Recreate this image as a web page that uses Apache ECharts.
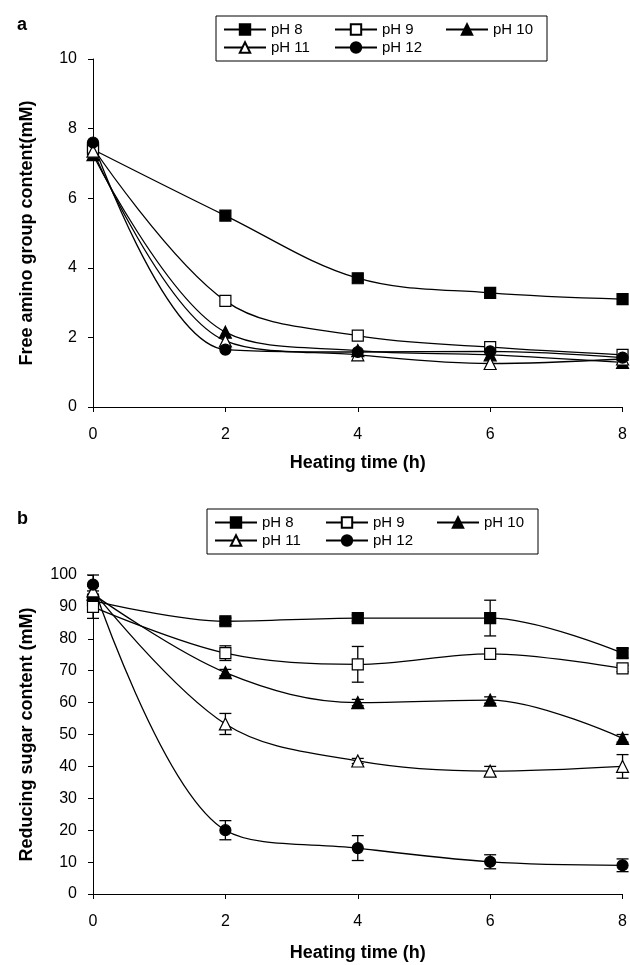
<!DOCTYPE html>
<html>
<head>
<meta charset="utf-8">
<script src="https://cdn.jsdelivr.net/npm/echarts@6/dist/echarts.min.js"></script>
<style>
html, body { margin: 0; padding: 0; background: #fff; }
#chart_div { width: 630px; height: 965px; }
</style>
</head>
<body>
<div id="chart_div"></div>
<script>
// heating time (h)
var hours = [0, 2, 4, 6, 8];
var xTicks = [0, 2, 4, 6, 8];
var phNames = ['pH 8', 'pH 9', 'pH 10', 'pH 11', 'pH 12'];

// a: free amino group content (mM)
var aminoPH8 = [7.4, 5.5, 3.7, 3.28, 3.1];
var aminoPH9 = [7.45, 3.05, 2.05, 1.72, 1.5];
var aminoPH10 = [7.25, 2.15, 1.62, 1.5, 1.28];
var aminoPH11 = [7.35, 1.9, 1.5, 1.25, 1.38];
var aminoPH12 = [7.6, 1.65, 1.58, 1.6, 1.42];

// b: reducing sugar content (mM) and error bars (+/-)
var sugarPH8 = [92, 85.5, 86.5, 86.5, 75.5];
var sugarPH9 = [90, 75.5, 72, 75.3, 70.7];
var sugarPH10 = [94, 69.4, 60, 60.8, 48.8];
var sugarPH11 = [95, 53.3, 41.7, 38.5, 40];
var sugarPH12 = [97, 20, 14.4, 10.1, 9];
var sugarErrPH8 = [1.5, 1, 1, 5.6, 1.5];
var sugarErrPH9 = [3.6, 2.3, 5.6, 0.8, 1];
var sugarErrPH10 = [1, 1, 1, 1, 1.2];
var sugarErrPH11 = [1.5, 3.3, 0.8, 1.5, 3.7];
var sugarErrPH12 = [3, 3, 3.9, 2.2, 2];

var font = 'Liberation Sans';
var marks = [
	{ symbol: 'rect', fill: '#000' },
	{ symbol: 'rect', fill: '#fff' },
	{ symbol: 'triangle', fill: '#000' },
	{ symbol: 'triangle', fill: '#fff' },
	{ symbol: 'circle', fill: '#000' }
];

function pairs(vals) {
	var out = [];
	for (var i = 0; i < hours.length; i++) out.push([hours[i], vals[i]]);
	return out;
}

function lineSeries(name, k, vals, axis) {
	return {
		name: name,
		type: 'line',
		xAxisIndex: axis,
		yAxisIndex: axis,
		smooth: 0.35,
		z: 3,
		symbol: marks[k].symbol,
		symbolSize: marks[k].symbol == 'triangle' ? 12 : 11,
		lineStyle: { color: '#000', width: 1.3 },
		itemStyle: { color: marks[k].fill, borderColor: '#000', borderWidth: 1.2 },
		data: pairs(vals)
	};
}

// error bars drawn through the axis scale
function errSeries(vals, errs) {
	var d = [];
	for (var i = 0; i < hours.length; i++) {
		d.push([hours[i], vals[i] - errs[i], vals[i] + errs[i]]);
	}
	return {
		type: 'custom',
		xAxisIndex: 1,
		yAxisIndex: 1,
		z: 2,
		silent: true,
		encode: { x: 0, y: [1, 2] },
		renderItem: function (params, api) {
			var top = api.coord([api.value(0), api.value(2)]);
			var bot = api.coord([api.value(0), api.value(1)]);
			var st = { stroke: '#000', lineWidth: 1.3 };
			return {
				type: 'group',
				children: [
					{ type: 'line', shape: { x1: top[0], y1: top[1], x2: bot[0], y2: bot[1] }, style: st },
					{ type: 'line', shape: { x1: top[0] - 6, y1: top[1], x2: top[0] + 6, y2: top[1] }, style: st },
					{ type: 'line', shape: { x1: bot[0] - 6, y1: bot[1], x2: bot[0] + 6, y2: bot[1] }, style: st }
				]
			};
		},
		data: d
	};
}

function legendData() {
	return phNames.map(function (n) {
		return { name: n, textStyle: { width: n == 'pH 10' ? 48 : 60 } };
	});
}

function legendOpt(left, top) {
	return {
		left: left,
		top: top,
		width: 330,
		orient: 'horizontal',
		itemWidth: 42,
		itemHeight: 13,
		itemGap: 3,
		padding: [6, 6, 6, 7],
		borderColor: '#000',
		borderWidth: 1,
		selectedMode: false,
		textStyle: { fontFamily: font, fontSize: 15, color: '#000', lineHeight: 14 },
		data: legendData()
	};
}

function xAxisOpt(idx) {
	return {
		type: 'value',
		gridIndex: idx,
		min: 0,
		max: 8,
		interval: 2,
		name: 'Heating time (h)',
		nameLocation: 'middle',
		nameGap: idx == 0 ? 47 : 50,
		nameTextStyle: { fontFamily: font, fontSize: 18, fontWeight: 'bold', color: '#000' },
		axisLine: { lineStyle: { color: '#000', width: 1 } },
		axisTick: { length: 5, lineStyle: { color: '#000' } },
		axisLabel: { margin: 20, fontFamily: font, fontSize: 16, color: '#000' },
		splitLine: { show: false }
	};
}

function yAxisOpt(idx, name, max, step) {
	return {
		type: 'value',
		gridIndex: idx,
		min: 0,
		max: max,
		interval: step,
		name: name,
		nameLocation: 'middle',
		nameGap: 57,
		nameTextStyle: { fontFamily: font, fontSize: 18, fontWeight: 'bold', color: '#000' },
		axisLine: { show: true, lineStyle: { color: '#000', width: 1 } },
		axisTick: { show: true, length: 5, lineStyle: { color: '#000' } },
		axisLabel: { margin: 16, fontFamily: font, fontSize: 16, color: '#000' },
		splitLine: { show: false }
	};
}

var chart = echarts.init(document.getElementById('chart_div'), null, { renderer: 'canvas' });

var aminoSets = [aminoPH8, aminoPH9, aminoPH10, aminoPH11, aminoPH12];
var sugarSets = [sugarPH8, sugarPH9, sugarPH10, sugarPH11, sugarPH12];
var errSets = [sugarErrPH8, sugarErrPH9, sugarErrPH10, sugarErrPH11, sugarErrPH12];

var series = [];
for (var k = 0; k < 5; k++) {
	series.push(errSeries(sugarSets[k], errSets[k]));
}
for (var k = 0; k < 5; k++) {
	series.push(lineSeries(phNames[k], k, aminoSets[k], 0));
	series.push(lineSeries(phNames[k], k, sugarSets[k], 1));
}

chart.setOption({
	backgroundColor: '#fff',
	animation: false,
	title: [
		{ text: 'a', left: 12, top: 11, textStyle: { fontFamily: font, fontSize: 18, fontWeight: 'bold', color: '#000' } },
		{ text: 'b', left: 12, top: 505, textStyle: { fontFamily: font, fontSize: 18, fontWeight: 'bold', color: '#000' } }
	],
	legend: [legendOpt(216, 16), legendOpt(207, 509)],
	grid: [
		{ left: 93, right: 7, top: 59, height: 348 },
		{ left: 93, right: 7, top: 575, height: 319 }
	],
	xAxis: [xAxisOpt(0), xAxisOpt(1)],
	yAxis: [
		yAxisOpt(0, 'Free amino group content(mM)', 10, 2),
		yAxisOpt(1, 'Reducing sugar content (mM)', 100, 10)
	],
	series: series
});
</script>
</body>
</html>
